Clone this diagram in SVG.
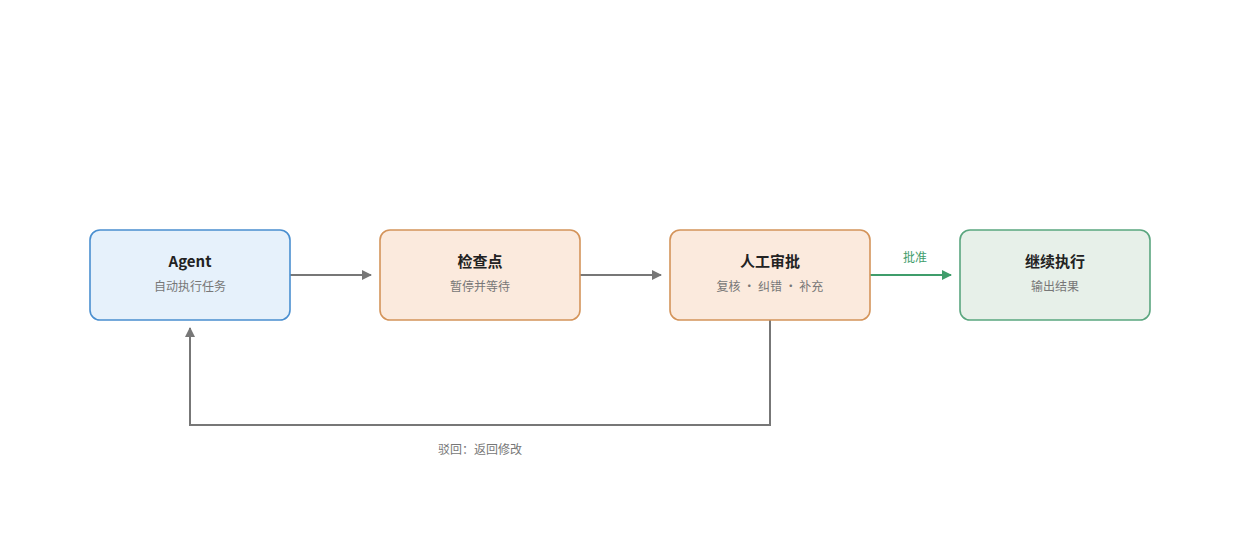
<svg xmlns="http://www.w3.org/2000/svg" width="1240" height="560" viewBox="0 0 1240 560">
<style>
.t{font-family:"Noto Sans CJK SC","Noto Sans",sans-serif;font-size:15px;font-weight:bold;fill:#222;text-anchor:middle}
.s{font-family:"Noto Sans CJK SC","Noto Sans",sans-serif;font-size:12px;fill:#777;text-anchor:middle}
.b{fill:#e6f1fb;stroke:#4a8fd0;stroke-width:1.6}
.o{fill:#fbeadd;stroke:#d4945a;stroke-width:1.6}
.g{fill:#e7f0e9;stroke:#5aa67f;stroke-width:1.6}
.c{fill:none;stroke:#777;stroke-width:2}
</style>
<defs>
<marker id="a" markerWidth="10" markerHeight="10" refX="9" refY="5" orient="auto" markerUnits="userSpaceOnUse" viewBox="0 0 10 10"><path d="M0,0L10,5L0,10z" fill="#777"/></marker>
<marker id="ag" markerWidth="10" markerHeight="10" refX="9" refY="5" orient="auto" markerUnits="userSpaceOnUse" viewBox="0 0 10 10"><path d="M0,0L10,5L0,10z" fill="#3f9d6b"/></marker>
</defs>
<rect width="1240" height="560" fill="#fff"/>
<g id="connectors">
<path class="c" d="M290,275H371" marker-end="url(#a)" style="marker-end:url(#a)"/>
<path class="c" d="M580,275H661" marker-end="url(#a)"/>
<path d="M870,275H951" fill="none" stroke="#3f9d6b" stroke-width="2" marker-end="url(#ag)"/>
<path class="c" d="M770,320V425H190V328" marker-end="url(#a)"/>
<text x="915" y="262" class="s" style="fill:#3f9d6b">批准</text>
<text x="480" y="454" class="s">驳回：返回修改</text>
</g>
<g id="agent"><rect x="90" y="230" width="200" height="90" rx="10" class="b"/><text x="190" y="267" class="t">Agent</text><text x="190" y="291" class="s">自动执行任务</text></g>
<g id="checkpoint"><rect x="380" y="230" width="200" height="90" rx="10" class="o"/><text x="480" y="267" class="t">检查点</text><text x="480" y="291" class="s">暂停并等待</text></g>
<g id="review"><rect x="670" y="230" width="200" height="90" rx="10" class="o"/><text x="770" y="267" class="t">人工审批</text><text x="770" y="291" class="s">复核 · 纠错 · 补充</text></g>
<g id="continue"><rect x="960" y="230" width="190" height="90" rx="10" class="g"/><text x="1055" y="267" class="t">继续执行</text><text x="1055" y="291" class="s">输出结果</text></g>
</svg>
